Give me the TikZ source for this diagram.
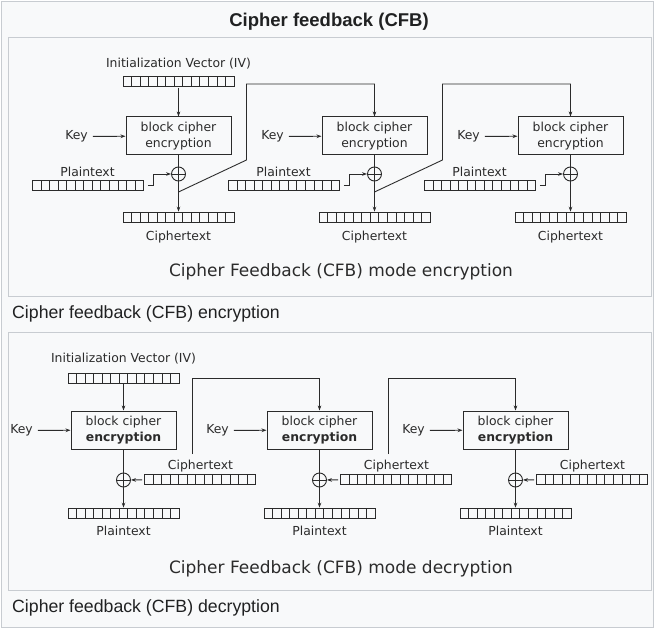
\documentclass[tikz,border=0pt]{standalone}
\usepackage{fontspec}
\setmainfont{Liberation Sans}
\newfontfamily\svgfont{DejaVu Sans}
\usetikzlibrary{arrows.meta, positioning}
\definecolor{wikibg}{HTML}{F8F9FA}
\definecolor{wikiframe}{HTML}{C8CCD1}
\definecolor{wikitext}{HTML}{202122}
\definecolor{ink}{HTML}{2B2B2B}

\begin{document}
\begin{tikzpicture}[x=1pt, y=-1pt, >={Stealth[length=5pt,width=3.6pt]},
    cipherbox/.style={rectangle, draw=ink, line width=1pt, minimum width=105pt, minimum height=38pt, align=center, inner sep=0pt, text=ink, font=\svgfont\fontsize{12.4}{15.5}\selectfont},
    lbl/.style={inner sep=1pt, text=ink, font=\svgfont\fontsize{12.4}{14}\selectfont},
    modelbl/.style={inner sep=0pt, text=ink, font=\svgfont\fontsize{17}{20}\selectfont},
    caption/.style={anchor=west, inner sep=0pt, text=wikitext, font=\fontsize{17.7}{20}\selectfont},
    reg/.style={rectangle, draw=ink, line width=0.8pt, minimum width=111pt, minimum height=10pt, inner sep=0pt,
      path picture={\foreach \k in {1,...,12}
        \draw[ink, line width=0.7pt] ([xshift={\k*111pt/13}]path picture bounding box.south west) -- ([xshift={\k*111pt/13}]path picture bounding box.north west);}},
    xor/.style={circle, draw=ink, line width=0.9pt, minimum size=14pt, inner sep=0pt,
      path picture={\draw[ink, line width=0.9pt] (path picture bounding box.north) -- (path picture bounding box.south)
        (path picture bounding box.west) -- (path picture bounding box.east);}},
    wire/.style={draw=ink, line width=0.9pt},
    arrow/.style={->, draw=ink, line width=0.9pt}]
  \useasboundingbox (0,0) rectangle (655,628);
  % page and frames
  \fill[white] (0,0) rectangle (655,628);
  \filldraw[fill=wikibg, draw=wikiframe] (1.5,1.5) rectangle (653.5,627);
  \filldraw[fill=wikibg, draw=wikiframe] (8.5,37.5) rectangle (651,296);
  \filldraw[fill=wikibg, draw=wikiframe] (8.5,332) rectangle (651,590);
  \node[text=wikitext, font=\bfseries\fontsize{18.5}{22}\selectfont] (title) at (329,22) {Cipher feedback (CFB)};
  \node[caption] (cap1) at (12,314) {Cipher feedback (CFB) encryption};
  \node[caption] (cap2) at (12,608) {Cipher feedback (CFB) decryption};

  % encryption
  \node[lbl] (eivl) at (178.5,63.5) {Initialization Vector (IV)};
  \node[reg] (eiv) at (178.5,81.5) {};
  \foreach \i in {0,1,2}{
    \pgfmathsetmacro\cx{178.5+196*\i}
    \node[cipherbox] (eb\i) at (\cx,136) {block cipher\\encryption};
    \node[lbl] (ek\i) at (\cx-102,136.5) {Key};
    \node[reg] (ep\i) at (\cx-90.5,185) {};
    \node[lbl] (epl\i) at (\cx-91,171.5) {Plaintext};
    \node[xor] (ex\i) at (\cx,174) {};
    \node[reg] (ec\i) at (\cx,217) {};
    \node[lbl] (ecl\i) at (\cx,237.5) {Ciphertext};
    \coordinate (etop\i) at (\cx,84);
    \coordinate (efb\i) at (\cx,192);
    \draw[arrow, shorten <=4pt] (ek\i) -- (eb\i);
    \draw[wire] (eb\i) -- (ex\i);
    \draw[arrow] (ex\i) -- (ec\i);
    \draw[arrow] ([xshift=4pt]ep\i.east) -- ++(6,0) |- (ex\i);
  }
  \draw[arrow, shorten <=1pt] (eiv) -- (eb0);
  \foreach \i/\j in {0/1,1/2}
    \draw[arrow] (efb\i) -- ++(68,-32) |- (etop\j) -- (eb\j);
  \node[modelbl] (emode) at (341,272) {Cipher Feedback (CFB) mode encryption};

  % decryption
  \node[lbl] (divl) at (123.5,358.5) {Initialization Vector (IV)};
  \node[reg] (div) at (123.5,378) {};
  \foreach \i in {0,1,2}{
    \pgfmathsetmacro\dx{123.5+196*\i}
    \node[cipherbox] (db\i) at (\dx,430) {block cipher\\\textbf{encryption}};
    \node[lbl] (dk\i) at (\dx-102,430.5) {Key};
    \node[xor] (dx\i) at (\dx,480) {};
    \node[reg] (dp\i) at (\dx,513) {};
    \node[lbl] (dpl\i) at (\dx,530.5) {Plaintext};
    \node[reg] (dc\i) at (\dx+76.5,479.5) {};
    \node[lbl] (dcl\i) at (\dx+77,466.5) {Ciphertext};
    \coordinate (dtop\i) at (\dx,378);
    \coordinate (dfb\i) at (\dx+68.5,454);
    \draw[arrow, shorten <=4pt] (dk\i) -- (db\i);
    \draw[wire] (db\i) -- (dx\i);
    \draw[arrow] (dx\i) -- (dp\i);
    \draw[arrow, shorten <=2pt] (dc\i) -- (dx\i);
  }
  \draw[arrow, shorten <=1pt] (div) -- (db0);
  \foreach \i/\j in {0/1,1/2}
    \draw[arrow] (dfb\i) |- (dtop\j) -- (db\j);
  \node[modelbl] (dmode) at (341,569) {Cipher Feedback (CFB) mode decryption};
\end{tikzpicture}
\end{document}
